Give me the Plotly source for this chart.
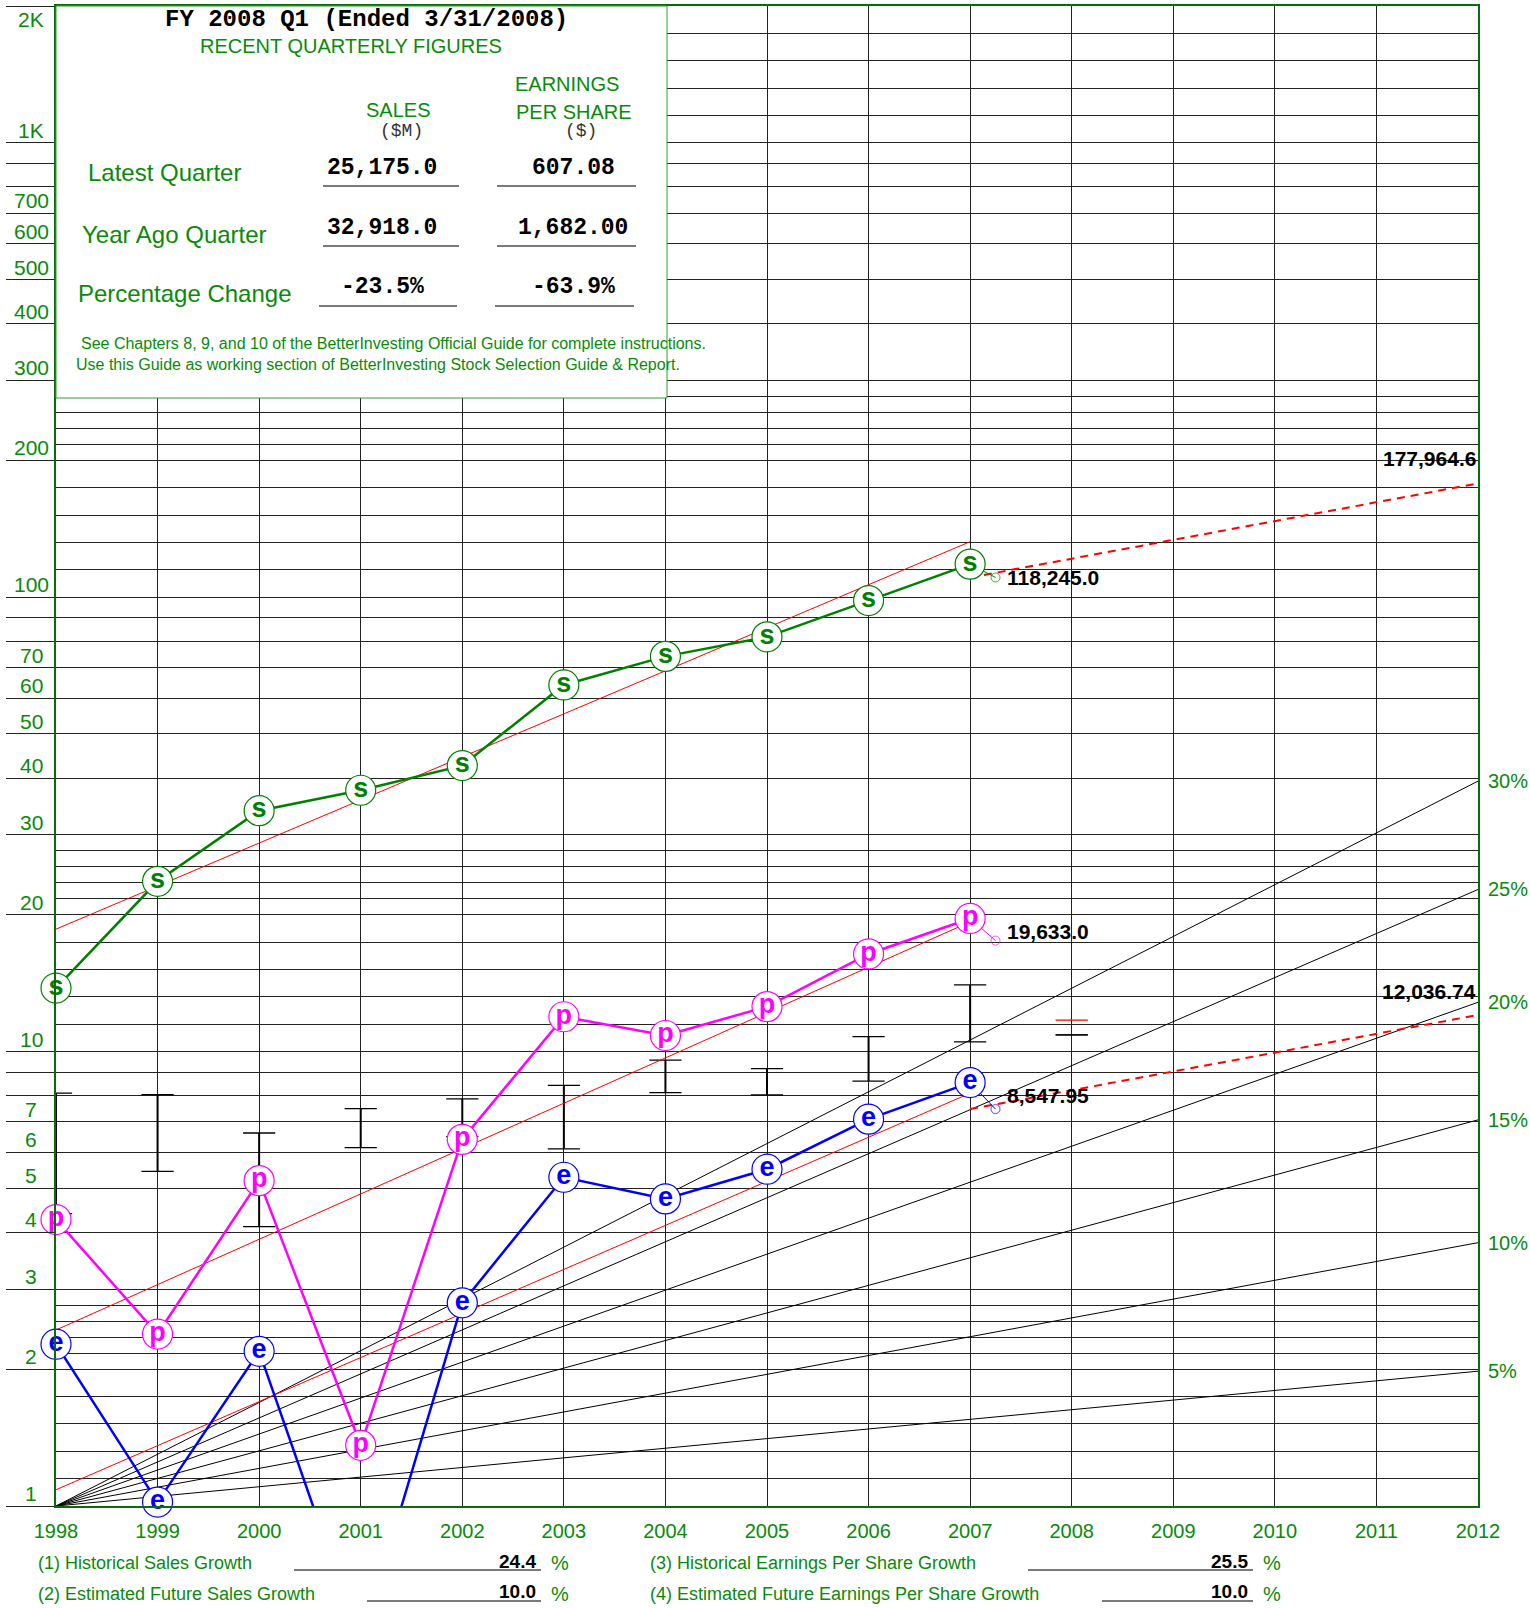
import math
import plotly.graph_objects as go

# ---------------- data (values in the chart's plotted units) ----------------
years = [1998, 1999, 2000, 2001, 2002, 2003, 2004, 2005, 2006, 2007]
sales = [13.8, 23.7, 33.9, 37.6, 42.6, 64.1, 74.1, 81.8, 98.3, 118.245]
pretax = [4.27, 2.39, 5.20, 1.36, 6.41, 11.93, 10.85, 12.56, 16.4, 19.633]
eps = [2.27, 1.02, 2.19, 0.5, 2.80, 5.29, 4.74, 5.51, 7.10, 8.54795]

ttm_x = 2007.25
ttm_sales = 110.502
ttm_pretax = 17.55
ttm_eps = 7.473

proj_x = [2007, 2012]
proj_sales = [110.502, 177.9646]
proj_eps = [7.473, 12.03674]

trend_x = [1998, 2007]
trend_sales = [18.6, 132.5]
trend_pretax = [2.44, 19.3]
trend_eps = [1.086, 8.1]

bar_years = [1998, 1999, 2000, 2001, 2002, 2003, 2004, 2005, 2006, 2007, 2008]
bar_high = [8.1, 8.04, 6.62, 7.49, 7.87, 8.43, 9.58, 9.17, 10.79, 14.02, 10.88]
bar_low = [4.4, 5.45, 4.12, 6.15, 6.5, 6.11, 8.12, 8.03, 8.61, 10.5, 10.88]
red_cap_year = [2008]
red_cap_val = [11.73]

pct_rates = [5, 10, 15, 20, 25, 30]
axis_years = list(range(1998, 2013))

ylabel_vals = [1, 2, 3, 4, 5, 6, 7, 10, 20, 30, 40, 50, 60, 70, 100, 200, 300, 400, 500, 600, 700, 1000]
ylabel_text = ["1", "2", "3", "4", "5", "6", "7", "10", "20", "30", "40", "50", "60", "70",
               "100", "200", "300", "400", "500", "600", "700", "1K"]

latest_q = ["25,175.0", "607.08"]
yearago_q = ["32,918.0", "1,682.00"]
pct_change = ["-23.5%", "-63.9%"]
growth_labels = ["(1) Historical Sales Growth", "(2) Estimated Future Sales Growth",
                 "(3) Historical Earnings Per Share Growth", "(4) Estimated Future Earnings Per Share Growth"]
growth_vals = ["24.4", "10.0", "25.5", "10.0"]

# ---------------- grid structure ----------------
major_vals = [d * k for d in (1, 10, 100) for k in range(1, 10)] + [1000, 2000]
minor_vals = []
for d in (1, 10, 100, 1000):
    minor_vals += [d * 2 ** (k / 5) for k in range(1, 5)]
for d in (1, 10, 100):
    minor_vals += [2 * d * 1.5 ** (k / 5) for k in range(1, 5)]

GREEN = "#0a8a0a"
AXG = "#0b6b0b"
MAG = "#ff00ff"
BLUE = "#0000ff"
SG = "#008000"

L, R, T, B = 56, 1478, 6, 1506
YMIN = 1


def px(xp):
    return (xp - L) / (R - L)


def py(yp):
    return (B - yp) / (B - T)


fig = go.Figure()

# percentage fan lines
for r in pct_rates:
    fig.add_trace(go.Scatter(x=[1998, 2012], y=[1, (1 + r / 100) ** 14], mode="lines",
                             line=dict(color="black", width=1), hoverinfo="skip"))

# price bars
fig.add_trace(go.Scatter(x=bar_years, y=bar_low, mode="markers",
                         marker=dict(size=1, opacity=0),
                         error_y=dict(type="data", symmetric=False,
                                      array=[h - l for h, l in zip(bar_high, bar_low)],
                                      arrayminus=[0] * len(bar_low), color="black",
                                      thickness=2, width=0)))
fig.add_trace(go.Scatter(x=bar_years + bar_years, y=bar_high + bar_low, mode="markers",
                         marker=dict(symbol="line-ew", size=23, line=dict(color="black", width=1.3))))
fig.add_trace(go.Scatter(x=red_cap_year, y=red_cap_val, mode="markers",
                         marker=dict(symbol="line-ew", size=23, line=dict(color="red", width=1.3))))

# trend lines
for tv in (trend_sales, trend_pretax, trend_eps):
    fig.add_trace(go.Scatter(x=trend_x, y=tv, mode="lines", line=dict(color="red", width=1)))

# projections
for pv in (proj_sales, proj_eps):
    fig.add_trace(go.Scatter(x=proj_x, y=pv, mode="lines",
                             line=dict(color="red", width=2, dash="8px,6px")))

# connectors to TTM circles
for series, ttm, col in ((sales, ttm_sales, SG), (pretax, ttm_pretax, MAG), (eps, ttm_eps, BLUE)):
    fig.add_trace(go.Scatter(x=[years[-1], ttm_x], y=[series[-1], ttm], mode="lines+markers",
                             line=dict(color=col, width=1),
                             marker=dict(size=[0, 9], symbol="circle-open", color=col,
                                         line=dict(width=1, color=col))))

# main series (points below the chart floor keep their line but get no badge)
for series, col, letter in ((eps, BLUE, "e"), (pretax, MAG, "p"), (sales, SG, "s")):
    visible = [v >= YMIN for v in series]
    fig.add_trace(go.Scatter(x=years, y=series, mode="lines",
                             line=dict(color=col, width=2.5), hoverinfo="skip"))
    fig.add_trace(go.Scatter(x=[x for x, ok in zip(years, visible) if ok],
                             y=[v for v, ok in zip(series, visible) if ok],
                             mode="markers+text",
                             marker=dict(size=30, color="white", line=dict(color=col, width=1.2)),
                             text=["<b>%s</b>" % letter] * sum(visible), textposition="middle center",
                             textfont=dict(family="Arial", size=27, color=col),
                             cliponaxis=False))

shapes = []
annotations = []

# header box
shapes.append(dict(type="rect", xref="paper", yref="paper", x0=0, x1=px(667), y0=py(398), y1=1,
                   fillcolor="white", line=dict(color="#2ea02e", width=1), layer="above"))


def ann(text, xp, yp, size, color, xanchor="center", family="Arial", yanchor="middle"):
    annotations.append(dict(text=text, x=px(xp), y=py(yp), xref="paper", yref="paper",
                            xanchor=xanchor, yanchor=yanchor, showarrow=False,
                            font=dict(family=family, size=size, color=color)))


def uline(x0, x1, yp, color="#7a7a7a", w=2):
    shapes.append(dict(type="line", xref="paper", yref="paper", x0=px(x0), x1=px(x1),
                       y0=py(yp), y1=py(yp), line=dict(color=color, width=w), layer="above"))


MONO = "Liberation Mono, Courier New, monospace"
ann("<b>FY 2008 Q1 (Ended 3/31/2008)</b>", 366, 19, 24, "black", family=MONO)
ann("RECENT QUARTERLY FIGURES", 351, 46, 20, GREEN)
ann("EARNINGS", 567, 84, 20, GREEN)
ann("PER SHARE", 574, 112, 20, GREEN)
ann("SALES", 398, 110, 20, GREEN)
ann("($M)", 401, 131, 18, "#333333", family=MONO)
ann("($)", 581, 131, 18, "#333333", family=MONO)
ann("Latest Quarter", 164, 173, 24, GREEN)
ann("Year Ago Quarter", 174, 235, 24, GREEN)
ann("Percentage Change", 185, 294, 24, GREEN)
rows_y = [168, 228, 287]
for yv, row in zip(rows_y, (latest_q, yearago_q, pct_change)):
    ann("<b>%s</b>" % row[0], 382, yv, 23, "black", family=MONO)
    ann("<b>%s</b>" % row[1], 573, yv, 23, "black", family=MONO)
uline(323, 459, 186)
uline(497, 636, 186)
uline(323, 459, 246)
uline(497, 636, 246)
uline(319, 457, 306)
uline(495, 634, 306)
ann("See Chapters 8, 9, and 10 of the BetterInvesting Official Guide for complete instructions.",
    79, 343, 16, GREEN, xanchor="left")
ann("Use this Guide as working section of BetterInvesting Stock Selection Guide & Report.",
    74, 365, 16, GREEN, xanchor="left")

# y labels
for v, t in zip(ylabel_vals, ylabel_text):
    annotations.append(dict(text=t, x=px(31), y=math.log10(v), xref="paper", yref="y",
                            xanchor="center", yanchor="bottom", showarrow=False, yshift=-1,
                            font=dict(family="Arial", size=21, color=GREEN)))
annotations.append(dict(text="2K", x=px(31), y=math.log10(2000), xref="paper", yref="y",
                        xanchor="center", yanchor="top", showarrow=False,
                        font=dict(family="Arial", size=21, color=GREEN)))

# percent labels
for r in pct_rates:
    annotations.append(dict(text="%d%%" % r, x=px(1486), y=math.log10((1 + r / 100) ** 14),
                            xref="paper", yref="y", xanchor="left", yanchor="middle",
                            showarrow=False, font=dict(family="Arial", size=20, color=GREEN)))

# value labels
ann("<b>177,964.6</b>", 1478, 458, 21, "black", xanchor="right")
ann("<b>118,245.0</b>", 1005, 577, 21, "black", xanchor="left")
ann("<b>19,633.0</b>", 1005, 931, 21, "black", xanchor="left")
ann("<b>12,036.74</b>", 1478, 991, 21, "black", xanchor="right")
ann("<b>8,547.95</b>", 1005, 1095, 21, "black", xanchor="left")

# growth section
gpos = [(36, 1563, 294, 541, 538), (36, 1594, 367, 541, 538),
        (648, 1563, 1028, 1253, 1250), (648, 1594, 1102, 1253, 1250)]
for (lx, yv, u0, u1, vx), lab, val in zip(gpos, growth_labels, growth_vals):
    ann(lab, lx, yv, 18, GREEN, xanchor="left")
    uline(u0, u1, yv + 7)
    ann("<b>%s</b>" % val, vx, yv - 2, 19, "black", xanchor="right")
    ann("%", vx + 11, yv, 20, GREEN, xanchor="left")

fig.update_layout(
    width=1530, height=1608,
    margin=dict(l=L, r=1530 - R, t=T, b=1608 - B, autoexpand=False),
    plot_bgcolor="white", paper_bgcolor="white", showlegend=False,
    shapes=shapes, annotations=annotations,
    xaxis=dict(range=[1998, 2012], tickmode="array", tickvals=axis_years,
               ticktext=[str(y) for y in axis_years], tickfont=dict(family="Arial", size=20, color=GREEN),
               showgrid=True, gridcolor="#222222", gridwidth=1, zeroline=False,
               showline=True, linecolor=AXG, linewidth=2, mirror=True, ticks="",
               automargin=False, ticklabelstandoff=6),
    yaxis=dict(type="log", range=[0, math.log10(2000)], tickmode="array", tickvals=major_vals,
               showticklabels=False, ticks="outside", ticklen=48, tickcolor="#222222", tickwidth=1,
               showgrid=True, gridcolor="#222222", gridwidth=1, zeroline=False,
               showline=True, linecolor=AXG, linewidth=2, mirror=True, automargin=False,
               minor=dict(tickmode="array", tickvals=minor_vals, showgrid=True,
                          gridcolor="#222222", gridwidth=1, ticks="")),
)

fig.write_html("out.html", config={"displayModeBar": False},
               post_script="document.body.style.margin='0px';document.body.style.overflow='hidden';")
